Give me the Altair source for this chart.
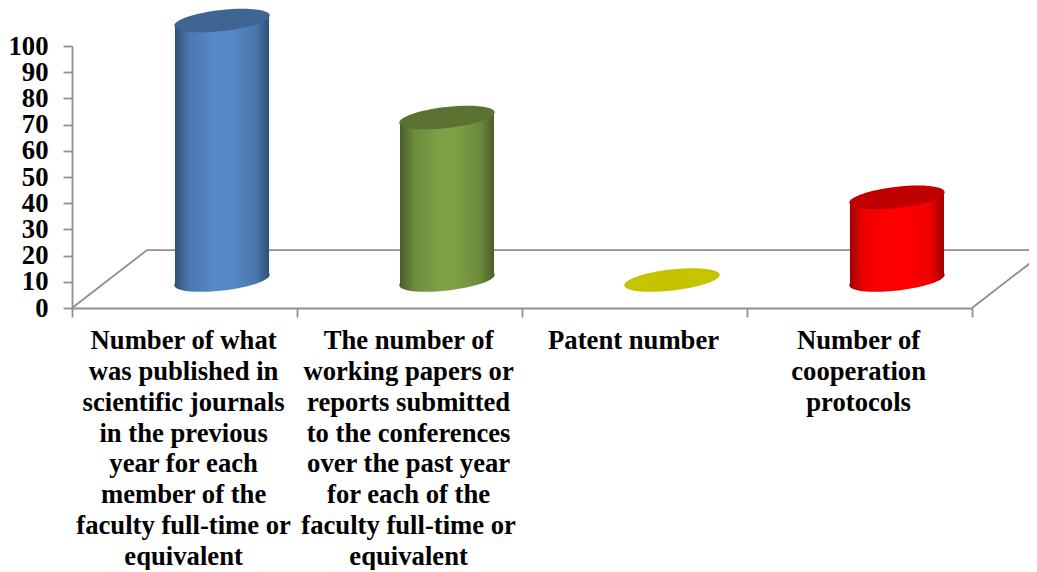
import altair as alt
import pandas as pd

categories = [
    "Number of what\nwas published in\nscientific journals\nin the previous\nyear for each\nmember of the\nfaculty full-time or\nequivalent",
    "The number of\nworking papers or\nreports submitted\nto the conferences\nover the past year\nfor each of the\nfaculty full-time or\nequivalent",
    "Patent number",
    "Number of\ncooperation\nprotocols",
]
values = [99, 62, 0, 31.5]
edge_colors = ["#2f5078", "#4a5d28", "#c6c400", "#a00000"]
mid_colors = ["#4a78ae", "#6c8a3c", "#c6c400", "#f00000"]
center_colors = ["#5788c8", "#80a046", "#c6c400", "#ff0000"]
top_colors = ["#3f6594", "#5c7232", "#c6c400", "#c00000"]
x_ticks = [0, 1, 2, 3, 4]
y_ticks = list(range(0, 101, 10))

FONT = "Liberation Serif"
GREY = "#8f8f8f"
x_scale = alt.Scale(domain=[0, 4], clamp=False, nice=False, zero=False)
y_scale = alt.Scale(domain=[0, 100], clamp=False, nice=False, zero=False)
x_axis = alt.Axis(
    values=x_ticks, labels=False, grid=False, domainColor=GREY, domainWidth=1.8,
    tickColor=GREY, tickWidth=1.8, tickSize=9, title=None)
y_axis = alt.Axis(
    values=y_ticks, grid=False, domainColor=GREY, domainWidth=1.8,
    tickColor=GREY, tickWidth=1.8, tickSize=9, labelFont=FONT, labelFontWeight="bold",
    labelFontSize=26.67, labelColor="black", labelPadding=15, title=None,
    labelOverlap=False, labelBound=False, labelFlush=False)
X = lambda f: alt.X(f, type="quantitative", scale=x_scale, axis=x_axis)
Y = lambda f: alt.Y(f, type="quantitative", scale=y_scale, axis=y_axis)

DEPTH_X, DEPTH_Y = 1 / 3, 22.1
BAR_DX, BAR_BASE = DEPTH_X / 2, 10.7
HALF = 0.209
SHEAR = 1.9
ELLIPSE = "M-1,0 A1,0.22 0 1,1 1,0 A1,0.22 0 1,1 -1,0 Z"

# floor
floor_df = pd.DataFrame({
    "x": [0, DEPTH_X, 4 + DEPTH_X, 4],
    "y": [0, DEPTH_Y, DEPTH_Y, 0],
    "o": [0, 1, 2, 3],
})
floor = alt.Chart(floor_df).mark_line(color=GREY, strokeWidth=1.8, clip=False).encode(
    x=X("x"), y=Y("y"), order="o:Q")

layers = [floor]

for i, v in enumerate(values):
    c = i + 0.5 + BAR_DX
    grad = alt.LinearGradient(
        gradient="linear", x1=0, x2=1, y1=0, y2=0,
        stops=[
            alt.GradientStop(color=edge_colors[i], offset=0),
            alt.GradientStop(color=mid_colors[i], offset=0.15),
            alt.GradientStop(color=center_colors[i], offset=0.42),
            alt.GradientStop(color=center_colors[i], offset=0.58),
            alt.GradientStop(color=mid_colors[i], offset=0.85),
            alt.GradientStop(color=edge_colors[i], offset=1),
        ],
    )
    base = BAR_BASE
    top = BAR_BASE + v
    ends = alt.Chart(pd.DataFrame({"x": [c], "b": [base], "t": [top]}))
    sym = dict(shape=ELLIPSE, size=9216, angle=353.5, filled=True, opacity=1, strokeWidth=0)
    if v > 0:
        side = alt.Chart(pd.DataFrame({
            "x": [c - HALF, c + HALF],
            "y": [top - SHEAR, top + SHEAR],
            "y2": [base - SHEAR, base + SHEAR],
        })).mark_area(color=grad, clip=False).encode(
            x=X("x"), y=Y("y"), y2=alt.Y2("y2"))
        layers.append(ends.mark_point(fill=grad, **sym).encode(x=X("x"), y=Y("b")))
        layers.append(side)
    layers.append(ends.mark_point(fill=top_colors[i], **sym).encode(x=X("x"), y=Y("t")))

# category labels
labels_df = pd.DataFrame({"x": [0.496, 1.496, 2.496, 3.496], "y": [-7.7] * 4, "t": categories})
labels = alt.Chart(labels_df).mark_text(
    font=FONT, fontWeight="bold", fontSize=26.67, color="black", baseline="top",
    align="center", lineBreak="\n", lineHeight=30.8, clip=False,
).encode(x=X("x"), y=Y("y"), text="t:N")
layers.append(labels)

chart = alt.layer(*layers).properties(
    width=900, height=262,
    padding={"left": 64, "top": 38, "right": 57, "bottom": 262},
    autosize=alt.AutoSizeParams(type="none"),
    background="white",
).configure_view(stroke=None)

chart.save("out.html", embed_options={"renderer": "svg", "actions": False})
